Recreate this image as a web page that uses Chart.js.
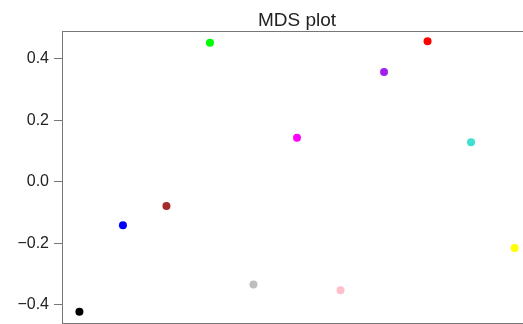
<!DOCTYPE html>
<html>
<head>
<meta charset="utf-8">
<script src="https://cdn.jsdelivr.net/npm/chart.js@4/dist/chart.umd.min.js"></script>
<style>
  html, body { margin: 0; padding: 0; background: #fff; overflow: hidden; width: 523px; height: 324px; }
  #wrap { position: absolute; left: 0; top: 0; width: 545px; height: 324px; overflow: hidden; }
  canvas { display: block; }
</style>
</head>
<body>
<div id="wrap"><canvas id="c" width="545" height="324"></canvas></div>
<script>
const sampleIndex = [1, 2, 3, 4, 5, 6, 7, 8, 9, 10, 11];
const dim2Values = [-0.423, -0.142, -0.079, 0.452, -0.334, 0.143, -0.353, 0.357, 0.457, 0.128, -0.216];
const pointColors = ['#000000', '#0000FF', '#A52A2A', '#00FF00', '#BEBEBE', '#FF00FF', '#FFC0CB', '#A020F0', '#FF0000', '#40E0D0', '#FFFF00'];
const xTickValues = [2, 4, 6, 8, 10];
const yTickValues = [-0.4, -0.2, 0.0, 0.2, 0.4];
const chartTitle = 'MDS plot';

const FONT = "'Liberation Sans', Arial, Helvetica, sans-serif";

const boxPlugin = {
  id: 'box',
  afterDraw(chart) {
    const a = chart.chartArea, ctx = chart.ctx;
    ctx.save();
    ctx.strokeStyle = '#777';
    ctx.lineWidth = 1;
    ctx.strokeRect(Math.round(a.left) + 0.5, Math.round(a.top) + 0.5, Math.round(a.right - a.left), Math.round(a.bottom - a.top));
    ctx.restore();
  }
};

new Chart(document.getElementById('c'), {
  type: 'scatter',
  data: {
    datasets: [{
      data: sampleIndex.map((x, i) => ({ x: x, y: dim2Values[i] })),
      pointBackgroundColor: pointColors,
      pointBorderColor: pointColors,
      pointBorderWidth: 0,
      pointRadius: 4,
      pointHoverRadius: 4
    }]
  },
  options: {
    responsive: false,
    animation: false,
    events: [],
    layout: { autoPadding: false, padding: { left: 0, right: 13, top: 0, bottom: 0 } },
    plugins: {
      legend: { display: false },
      tooltip: { enabled: false },
      title: {
        display: true,
        text: chartTitle,
        fullSize: false,
        color: '#222',
        font: { family: FONT, size: 19, weight: 'normal', lineHeight: 1 },
        padding: { top: 11.5, bottom: 0 }
      }
    },
    scales: {
      x: {
        type: 'linear',
        min: 0.6,
        max: 11.4,
        afterBuildTicks(scale) { scale.ticks = xTickValues.map(v => ({ value: v })); },
        afterFit(scale) { scale.height = 1.5; scale.paddingLeft = 0; scale.paddingRight = 0; },
        border: { display: false },
        grid: { drawOnChartArea: false, drawTicks: true, tickLength: 7, color: '#777' },
        ticks: { callback: () => '', padding: 0 }
      },
      y: {
        type: 'linear',
        min: -0.458,
        max: 0.4918,
        afterBuildTicks(scale) { scale.ticks = yTickValues.map(v => ({ value: v })); },
        afterFit(scale) { scale.width = 62; scale.paddingTop = 0; scale.paddingBottom = 0; },
        border: { display: false },
        grid: { drawOnChartArea: false, drawTicks: true, tickLength: 8, color: '#777' },
        ticks: {
          color: '#222',
          padding: 5,
          font: { family: FONT, size: 16 },
          callback: (v) => Number(v).toFixed(1).replace('-', '\u2212')
        }
      }
    }
  },
  plugins: [boxPlugin]
});
</script>
</body>
</html>
